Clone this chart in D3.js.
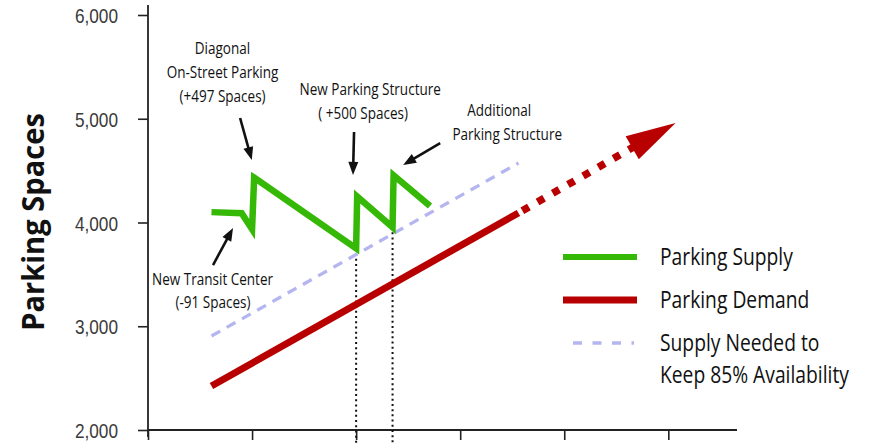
<!DOCTYPE html>
<html><head><meta charset="utf-8">
<script src="https://cdn.jsdelivr.net/npm/d3@7"></script>
<style>
html,body{margin:0;padding:0;background:#fff;}
svg{display:block;font-family:"Open Sans","Noto Sans",sans-serif;}
</style></head><body>
<svg id="chart" width="869" height="443"></svg>
<script>
// Axis ticks: years along x (unlabelled), parking spaces along y
const xTicks = [0, 1, 2, 3, 4, 5];
const yTicks = [2000, 3000, 4000, 5000, 6000];

// Parking supply: gradual losses punctuated by new capacity
const supplyYears  = [0.61, 0.90, 1.00, 1.02, 2.00, 2.01, 2.35, 2.36, 2.71];
const supplySpaces = [4100, 4090, 3935, 4432, 3750, 4250, 3955, 4455, 4160];

// Parking demand (observed trend, then projected)
const demandYears  = [0.61, 3.56];
const demandSpaces = [2424, 4092];
const projYears    = [3.56, 5.07];
const projSpaces   = [4092, 4960];

// Supply needed to keep 85% availability
const neededYears  = [0.61, 3.56];
const neededSpaces = [2906, 4573];

// Supply points where new capacity is brought online (marked with drop lines)
const dropIndex = [4, 6];

// Annotation text lines: [text, year, spaces at baseline]
const noteText = [
  ["Diagonal",              0.716, 5624],
  ["On-Street Parking",     0.716, 5393],
  ["(+497 Spaces)",         0.716, 5161],
  ["New Parking Structure", 2.135, 5229],
  ["( +500 Spaces)",        2.067, 5002],
  ["Additional",            3.375, 5031],
  ["Parking Structure",     3.452, 4800],
  ["New Transit Center",    0.620, 3398],
  ["(-91 Spaces)",          0.625, 3176]
];
// Annotation arrows: [fromYear, fromSpaces, toYear, toSpaces]
const noteArrows = [
  [0.885, 5007, 0.997, 4602],
  [1.980, 4872, 1.970, 4458],
  [2.808, 4766, 2.452, 4554],
  [0.625, 3590, 0.817, 3947]
];

const legendItems = [
  {label: ["Parking Supply"], kind: "supply"},
  {label: ["Parking Demand"], kind: "demand"},
  {label: ["Supply Needed to", "Keep 85% Availability"], kind: "needed"}
];

const GREEN = "#36b806", RED = "#b90000", LAV = "#b5b5ef", INK = "#111";
const CONDENSE = 0.82;   // horizontal squeeze to give a condensed face

// Place a text at (px, py) squeezed horizontally by k
function placeText(sel, px, py, k) {
  return sel.attr("x", 0).attr("y", 0)
    .attr("transform", `translate(${px},${py}) scale(${k},1)`);
}

const svg = d3.select("#chart");
const x = d3.scaleLinear().domain([0, 5.66]).range([148, 737]);
const y = d3.scaleLinear().domain([2000, 6000]).range([430, 15]);

// Axes
const yAxis = svg.append("g").attr("transform", `translate(${x(0)},0)`)
  .call(d3.axisLeft(y).tickValues(yTicks).tickFormat(d3.format(",")).tickSize(10).tickPadding(20));
yAxis.select(".domain").remove();
yAxis.selectAll(".tick line").attr("stroke", "#222").attr("stroke-width", 1.6);
yAxis.selectAll(".tick text").attr("font-size", 21).attr("fill", "#3a3a3a")
  .attr("font-family", "inherit").attr("font-weight", 300)
  .each(function () { placeText(d3.select(this).attr("dy", null), -30, 7.5, CONDENSE); });

const xAxis = svg.append("g").attr("transform", `translate(0,${y(2000)})`)
  .call(d3.axisBottom(x).tickValues(xTicks).tickFormat("").tickSize(10));
xAxis.select(".domain").remove();
xAxis.selectAll(".tick line").attr("stroke", "#222").attr("stroke-width", 1.6);

svg.append("line").attr("x1", x(0)).attr("x2", x(0)).attr("y1", 5).attr("y2", 437)
  .attr("stroke", "#222").attr("stroke-width", 1.8);
svg.append("line").attr("x1", x(0)).attr("x2", x(5.66)).attr("y1", y(2000)).attr("y2", y(2000))
  .attr("stroke", "#222").attr("stroke-width", 1.8);

// Axis title
svg.append("text")
  .attr("transform", "translate(44,222) rotate(-90) scale(0.97,1)")
  .attr("text-anchor", "middle").attr("font-size", 30).attr("font-weight", "bold")
  .attr("fill", INK).text("Parking Spaces");

const line = d3.line().x(d => x(d[0])).y(d => y(d[1]));
const zip = (a, b) => a.map((v, i) => [v, b[i]]);

// Drop lines from supply troughs to the axis
svg.append("g").selectAll("line").data(dropIndex).join("line")
  .attr("x1", i => x(supplyYears[i])).attr("x2", i => x(supplyYears[i]))
  .attr("y1", i => y(supplySpaces[i])).attr("y2", 443)
  .attr("stroke", INK).attr("stroke-width", 2).attr("stroke-dasharray", "2,3.2");

// Needed supply (dashed)
svg.append("path").datum(zip(neededYears, neededSpaces)).attr("d", line)
  .attr("fill", "none").attr("stroke", LAV).attr("stroke-width", 3.3)
  .attr("stroke-dasharray", "10,7.5");

// Demand (solid) + projection (dotted) + arrowhead
svg.append("path").datum(zip(demandYears, demandSpaces)).attr("d", line)
  .attr("fill", "none").attr("stroke", RED).attr("stroke-width", 7);

const p0 = [x(projYears[0]), y(projSpaces[0])];
const p1 = [x(projYears[1]), y(projSpaces[1])];
const pdx = p1[0] - p0[0], pdy = p1[1] - p0[1];
const plen = Math.hypot(pdx, pdy);
const ux = pdx / plen, uy = pdy / plen;
const headLen = 50, headHalf = 13.2;
const base = [p1[0] - ux * headLen, p1[1] - uy * headLen];
svg.append("line").attr("x1", p0[0]).attr("y1", p0[1])
  .attr("x2", base[0] + ux * 2).attr("y2", base[1] + uy * 2)
  .attr("stroke", RED).attr("stroke-width", 7.5)
  .attr("stroke-dasharray", "7.5,10").attr("stroke-dashoffset", 13);
svg.append("path")
  .attr("d", `M${p1[0]},${p1[1]}L${base[0] - uy * headHalf},${base[1] + ux * headHalf}` +
             `L${base[0] + uy * headHalf},${base[1] - ux * headHalf}Z`)
  .attr("fill", RED);

// Supply
svg.append("path").datum(zip(supplyYears, supplySpaces)).attr("d", line)
  .attr("fill", "none").attr("stroke", GREEN).attr("stroke-width", 6.5)
  .attr("stroke-linejoin", "miter").attr("stroke-miterlimit", 10);

// Annotations
svg.append("g").selectAll("text").data(noteText).join("text")
  .attr("text-anchor", "middle").attr("font-size", 16.5).attr("fill", INK)
  .text(d => d[0])
  .each(function (d) { placeText(d3.select(this), x(d[1]), y(d[2]), CONDENSE); });

const arrows = svg.append("g");
noteArrows.forEach(a => {
  const s = [x(a[0]), y(a[1])], t = [x(a[2]), y(a[3])];
  const dx = t[0] - s[0], dy = t[1] - s[1], L = Math.hypot(dx, dy);
  const vx = dx / L, vy = dy / L, hl = 13, hw = 5;
  const b = [t[0] - vx * hl, t[1] - vy * hl];
  arrows.append("line").attr("x1", s[0]).attr("y1", s[1])
    .attr("x2", b[0] + vx * 3).attr("y2", b[1] + vy * 3)
    .attr("stroke", INK).attr("stroke-width", 2.6);
  arrows.append("path")
    .attr("d", `M${t[0]},${t[1]}L${b[0] - vy * hw},${b[1] + vx * hw}L${b[0] + vy * hw},${b[1] - vx * hw}Z`)
    .attr("fill", INK);
});

// Legend
const lg = svg.append("g");
legendItems.forEach((it, i) => {
  const cy = 257 + i * 43;
  const l = lg.append("line").attr("x1", 563).attr("x2", 637).attr("y1", cy).attr("y2", cy);
  if (it.kind === "supply") l.attr("stroke", GREEN).attr("stroke-width", 6);
  if (it.kind === "demand") l.attr("stroke", RED).attr("stroke-width", 7);
  if (it.kind === "needed") l.attr("x1", 573).attr("x2", 634).attr("stroke", LAV).attr("stroke-width", 3.3)
    .attr("stroke-dasharray", "9,10.5");
  it.label.forEach((t, j) => {
    placeText(lg.append("text"), 660, cy + 8 + j * 32, CONDENSE)
      .attr("font-size", 23.5).attr("fill", INK).text(t);
  });
});
</script>
</body></html>
